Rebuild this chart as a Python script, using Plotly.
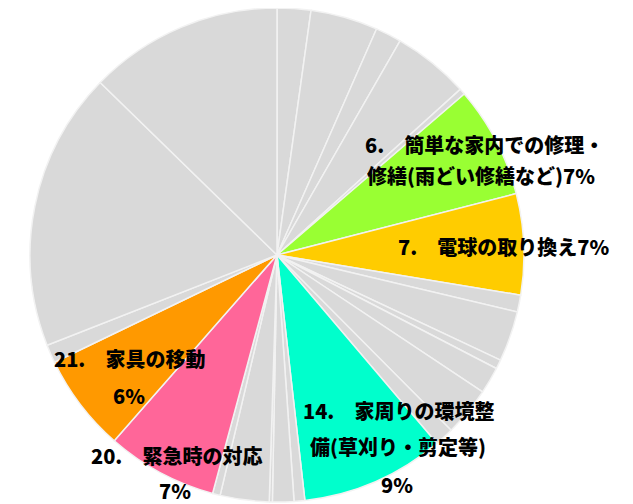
import plotly.graph_objects as go

# ---- data ----
categories = [f"{i}." for i in range(1, 25)]
values = [2.2, 4.4, 1.7, 5.0, 0.4, 7.3, 6.6, 1.1, 3.3, 0.6, 1.75, 3.2,
          1.25, 9.4, 0.7, 1.4, 0.2, 3.2, 0.5, 7.25, 6.4, 1.2, 18.25, 12.7]
highlight_colors = {6: "#99FF33", 7: "#FFCC00", 14: "#00FFCC", 20: "#FF6699", 21: "#FF9900"}
label_lines = {
    6: ["6.\u3000簡単な家内での修理・", "修繕(雨どい修繕など)7%"],
    7: ["7.\u3000電球の取り換え7%"],
    14: ["14.\u3000家周りの環境整", "備(草刈り・剪定等)", "9%"],
    20: ["20.\u3000緊急時の対応", "7%"],
    21: ["21.\u3000家具の移動", "6%"],
}

# page is rendered with an 8px body margin; work in page pixels and convert
OFF = 8
W, H = 633 - OFF, 504 - OFF
colors = [highlight_colors.get(i, "#D9D9D9") for i in range(1, 25)]

# pie geometry (page pixels)
cx, cy, r = 277 - OFF, 255 - OFF, 247

fig = go.Figure(go.Pie(
    labels=categories,
    values=values,
    sort=False,
    direction="clockwise",
    rotation=0,
    marker=dict(colors=colors, line=dict(color="#F2F2F2", width=1.5)),
    textinfo="none",
    hoverinfo="skip",
    showlegend=False,
    domain=dict(x=[(cx - r) / W, (cx + r) / W],
                y=[max(0, (H - cy - r) / H), min(1, (H - cy + r) / H)]),
))

# label placement (page-pixel centers for each line)
line_pos = {
    6: [(484, 145), (481, 176)],
    7: [(503, 246)],
    14: [(398, 410), (398, 446), (397, 484)],
    20: [(176, 455), (175, 490)],
    21: [(129, 358), (129, 395)],
}

annotations = []
for k, lines in label_lines.items():
    for txt, (px, py) in zip(lines, line_pos[k]):
        annotations.append(dict(
            x=(px - OFF) / W, y=1 - (py - OFF) / H, xref="paper", yref="paper",
            text=txt, showarrow=False, xanchor="center", yanchor="middle",
            font=dict(family="Noto Sans CJK JP", size=20, color="#000000", weight=900),
        ))

fig.update_layout(
    width=W, height=H,
    margin=dict(l=0, r=0, t=0, b=0),
    paper_bgcolor="white", plot_bgcolor="white",
    annotations=annotations,
)

fig.write_html("out.html")
